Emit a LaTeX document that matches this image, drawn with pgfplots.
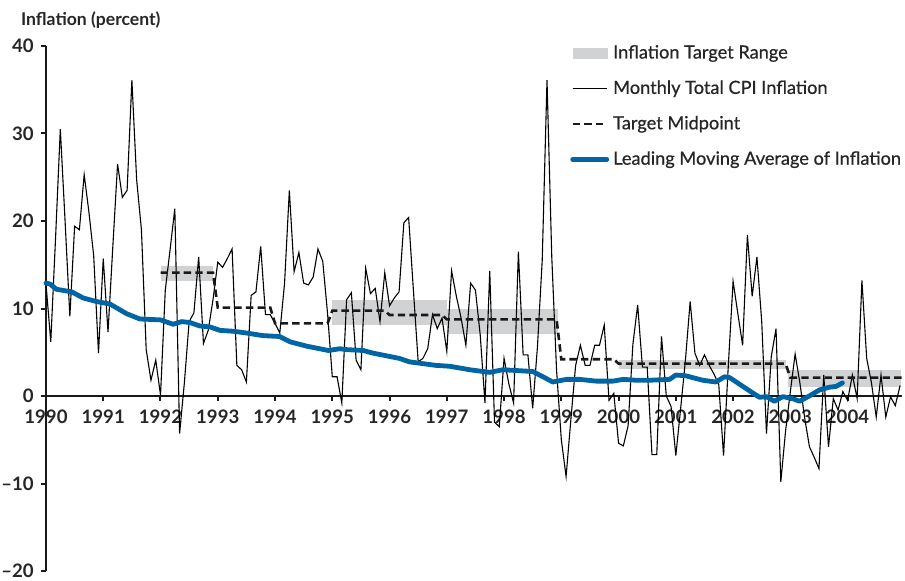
\documentclass[border=0pt]{standalone}
\usepackage{pgfplots}
\pgfplotsset{compat=1.18}
\usepackage{pgfplotstable}
\usepackage{fontspec}
\setmainfont{Lato}
\newfontfamily\legendfont[FakeBold=0.6]{Lato}

\definecolor{bandgray}{RGB}{209,210,212}
\definecolor{mablue}{RGB}{0,101,164}

% monthly CPI inflation, m = months after Jan 1990
\pgfplotstableread{
m v
0 12.8
1 6.2
2 18
3 30.5
4 20
5 9.1
6 19.4
7 19.0
8 25.3
9 21
10 16
11 4.9
12 15.7
13 7.3
14 17
15 26.5
16 22.7
17 23.5
18 36.1
19 24.7
20 19.0
21 5.3
22 1.8
23 4.1
24 0.1
25 12.1
26 16.7
27 21.4
28 -4.3
29 1.5
30 8.5
31 9.5
32 15.9
33 6.0
34 7.5
35 11
36 15.3
37 14.7
38 15.7
39 16.8
40 3.5
41 3.0
42 1.6
43 11.5
44 11.9
45 17.1
46 9.3
47 9.3
48 8.3
49 7.2
50 12.9
51 23.5
52 14.2
53 16.4
54 12.9
55 12.7
56 13.6
57 16.8
58 15.4
59 9.5
60 2.2
61 2.2
62 -0.8
63 11.0
64 11.8
65 4.1
66 3.0
67 14.6
68 11.7
69 12.3
70 8.5
71 14.1
72 10.3
73 11.2
74 11.9
75 19.8
76 20.4
77 12.1
78 3.9
79 4.3
80 5.4
81 9.3
82 7.7
83 8.9
84 5.1
85 14.3
86 11.4
87 8.9
88 5.8
89 12.9
90 12.1
91 7
92 -0.8
93 14.3
94 -3
95 -3.5
96 4.3
97 1.4
98 -0.8
99 16.5
100 4.7
101 4.7
102 -1.4
103 5.6
104 15.5
105 36.1
106 15.9
107 3
108 -5
109 -9.2
110 -2.7
111 3.5
112 5.8
113 3.5
114 3.5
115 5.8
116 5.8
117 8.1
118 -0.5
119 0.3
120 -5.4
121 -5.7
122 -3.4
123 5.9
124 10.4
125 3.3
126 3.3
127 -6.7
128 -6.7
129 6.8
130 0
131 -1.2
132 -6.8
133 -1.5
134 4
135 10.8
136 4.9
137 3.5
138 4.7
139 3.5
140 2.5
141 1.3
142 -6.8
143 3.5
144 13.1
145 9.4
146 5.8
147 18.4
148 11.4
149 15.9
150 8.5
151 -4.3
152 4.5
153 7.7
154 -9.8
155 -4
156 0.5
157 4.8
158 1.5
159 -2.5
160 -5.8
161 -7.0
162 -8.3
163 2.4
164 -5.8
165 -0.3
166 -1.6
167 0.5
168 -0.5
169 2.4
170 -0.3
171 13.2
172 4.3
173 1.5
174 -2.4
175 2.4
176 -2.4
177 -0.1
178 -1.1
179 1.2
}\cpi

% leading moving average
\pgfplotstableread{
t v
1990.00 12.9
1990.07 12.8
1990.18 12.2
1990.45 11.9
1990.65 11.2
1990.88 10.8
1991.12 10.5
1991.41 9.4
1991.64 8.8
1992.00 8.7
1992.22 8.2
1992.37 8.5
1992.51 8.4
1992.69 8.0
1992.86 7.9
1993.04 7.5
1993.27 7.4
1993.50 7.2
1993.79 6.9
1994.08 6.8
1994.26 6.2
1994.55 5.7
1994.78 5.4
1994.93 5.2
1995.13 5.4
1995.25 5.3
1995.54 5.2
1995.71 4.9
1995.94 4.6
1996.17 4.3
1996.35 3.9
1996.58 3.7
1996.81 3.5
1997.05 3.4
1997.40 3.0
1997.75 2.7
1997.98 3.0
1998.50 2.8
1998.68 2.2
1998.85 1.6
1999.09 1.9
1999.32 1.9
1999.61 1.7
1999.90 1.7
2000.08 1.9
2000.31 1.8
2000.54 1.8
2000.89 1.9
2001.00 2.4
2001.18 2.3
2001.47 1.8
2001.70 1.6
2001.85 2.2
2001.94 2.1
2002.17 1.1
2002.46 -0.15
2002.58 -0.07
2002.72 -0.6
2002.87 -0.07
2003.04 -0.3
2003.16 -0.6
2003.33 0.0
2003.51 0.7
2003.68 1.0
2003.80 1.1
2003.91 1.5
}\ma

% target midpoint
\pgfplotstableread{
t v
1992.0 14.1
1992.917 14.1
1993.0 10.1
1993.917 10.1
1994.0 8.3
1994.917 8.3
1995.0 9.75
1995.917 9.75
1996.0 9.26
1996.917 9.26
1997.0 8.76
1998.917 8.76
1999.0 4.2
1999.917 4.2
2000.0 3.7
2002.917 3.7
2003.0 2.1
2004.95 2.1
}\mid

\begin{document}
\begin{tikzpicture}
\begin{axis}[
    name=ax,
    scale only axis,
    width=428pt, height=262.5pt,
    xmin=1990, xmax=2004.95,
    ymin=-20, ymax=40,
    axis x line=middle,
    axis y line=left,
    hide obscured x ticks=false,
    axis line style={-, line width=1pt, black!90},
    xtick={1990,...,2004},
    xticklabels={1990,1991,1992,1993,1994,1995,1996,1997,1998,1999,2000,2001,2002,2003,2004},
    ytick={-20,-10,0,10,20,30,40},
    yticklabels={–20,–10,0,10,20,30,40},
    tick align=outside,
    major tick length=2.6pt,
    tick style={line width=1pt, black!90},
    ticklabel style={font=\bfseries\fontsize{9.3}{10}\selectfont, text=black!85},
    x tick label style={anchor=north, yshift=-1pt},
    title={Inflation (percent)},
    title style={at={(axis description cs:0,1)}, anchor=south west,
        xshift=-16pt, yshift=-1pt, font=\bfseries\fontsize{8.8}{10}\selectfont, text=black!85},
    legend style={at={(axis description cs:0.612,1.01)}, anchor=north west,
        draw=none, fill=none, inner sep=0pt, row sep=5.5pt,
        font=\legendfont\fontsize{9.1}{10}\selectfont, text=black!85,
        /tikz/every even column/.append style={column sep=3pt}},
    legend cell align=left,
    clip=false,
]
\addplot[fill=bandgray, draw=none,
    legend image code/.code={\fill[bandgray] (0pt,-2.75pt) rectangle (17.5pt,2.75pt);}]
    coordinates {(1992.0,13.1) (1992.92,13.1) (1992.92,14.9) (1992.0,14.9)};
\addlegendentry{Inflation Target Range}
\addplot[fill=bandgray, draw=none, forget plot]
    coordinates {(1995.0,8.1) (1997.0,8.1) (1997.0,11.0) (1995.0,11.0)};
\addplot[fill=bandgray, draw=none, forget plot]
    coordinates {(1997.0,7.05) (1998.94,7.05) (1998.94,10.0) (1997.0,10.0)};
\addplot[fill=bandgray, draw=none, forget plot]
    coordinates {(2000.0,3.05) (2002.93,3.05) (2002.93,4.15) (2000.0,4.15)};
\addplot[fill=bandgray, draw=none, forget plot]
    coordinates {(2002.96,1.06) (2004.93,1.06) (2004.93,2.97) (2002.96,2.97)};

\addplot[black, line width=0.55pt] table[x expr=1990+\thisrow{m}/12, y=v] {\cpi};
\addlegendentry{Monthly Total CPI Inflation}

\addplot[black!90, line width=1.3pt, dash pattern=on 3.7pt off 2.1pt] table[x=t, y=v] {\mid};
\addlegendentry{Target Midpoint}

\addplot[mablue, line width=2.4pt, line join=round, line cap=round] table[x=t, y=v] {\ma};
\addlegendentry{Leading Moving Average of Inflation}
\end{axis}
\pgfresetboundingbox
\path[use as bounding box] ([xshift=-23pt,yshift=-4.5pt]ax.south west)
    rectangle ([xshift=1.5pt,yshift=23pt]ax.north east);
\end{tikzpicture}
\end{document}
